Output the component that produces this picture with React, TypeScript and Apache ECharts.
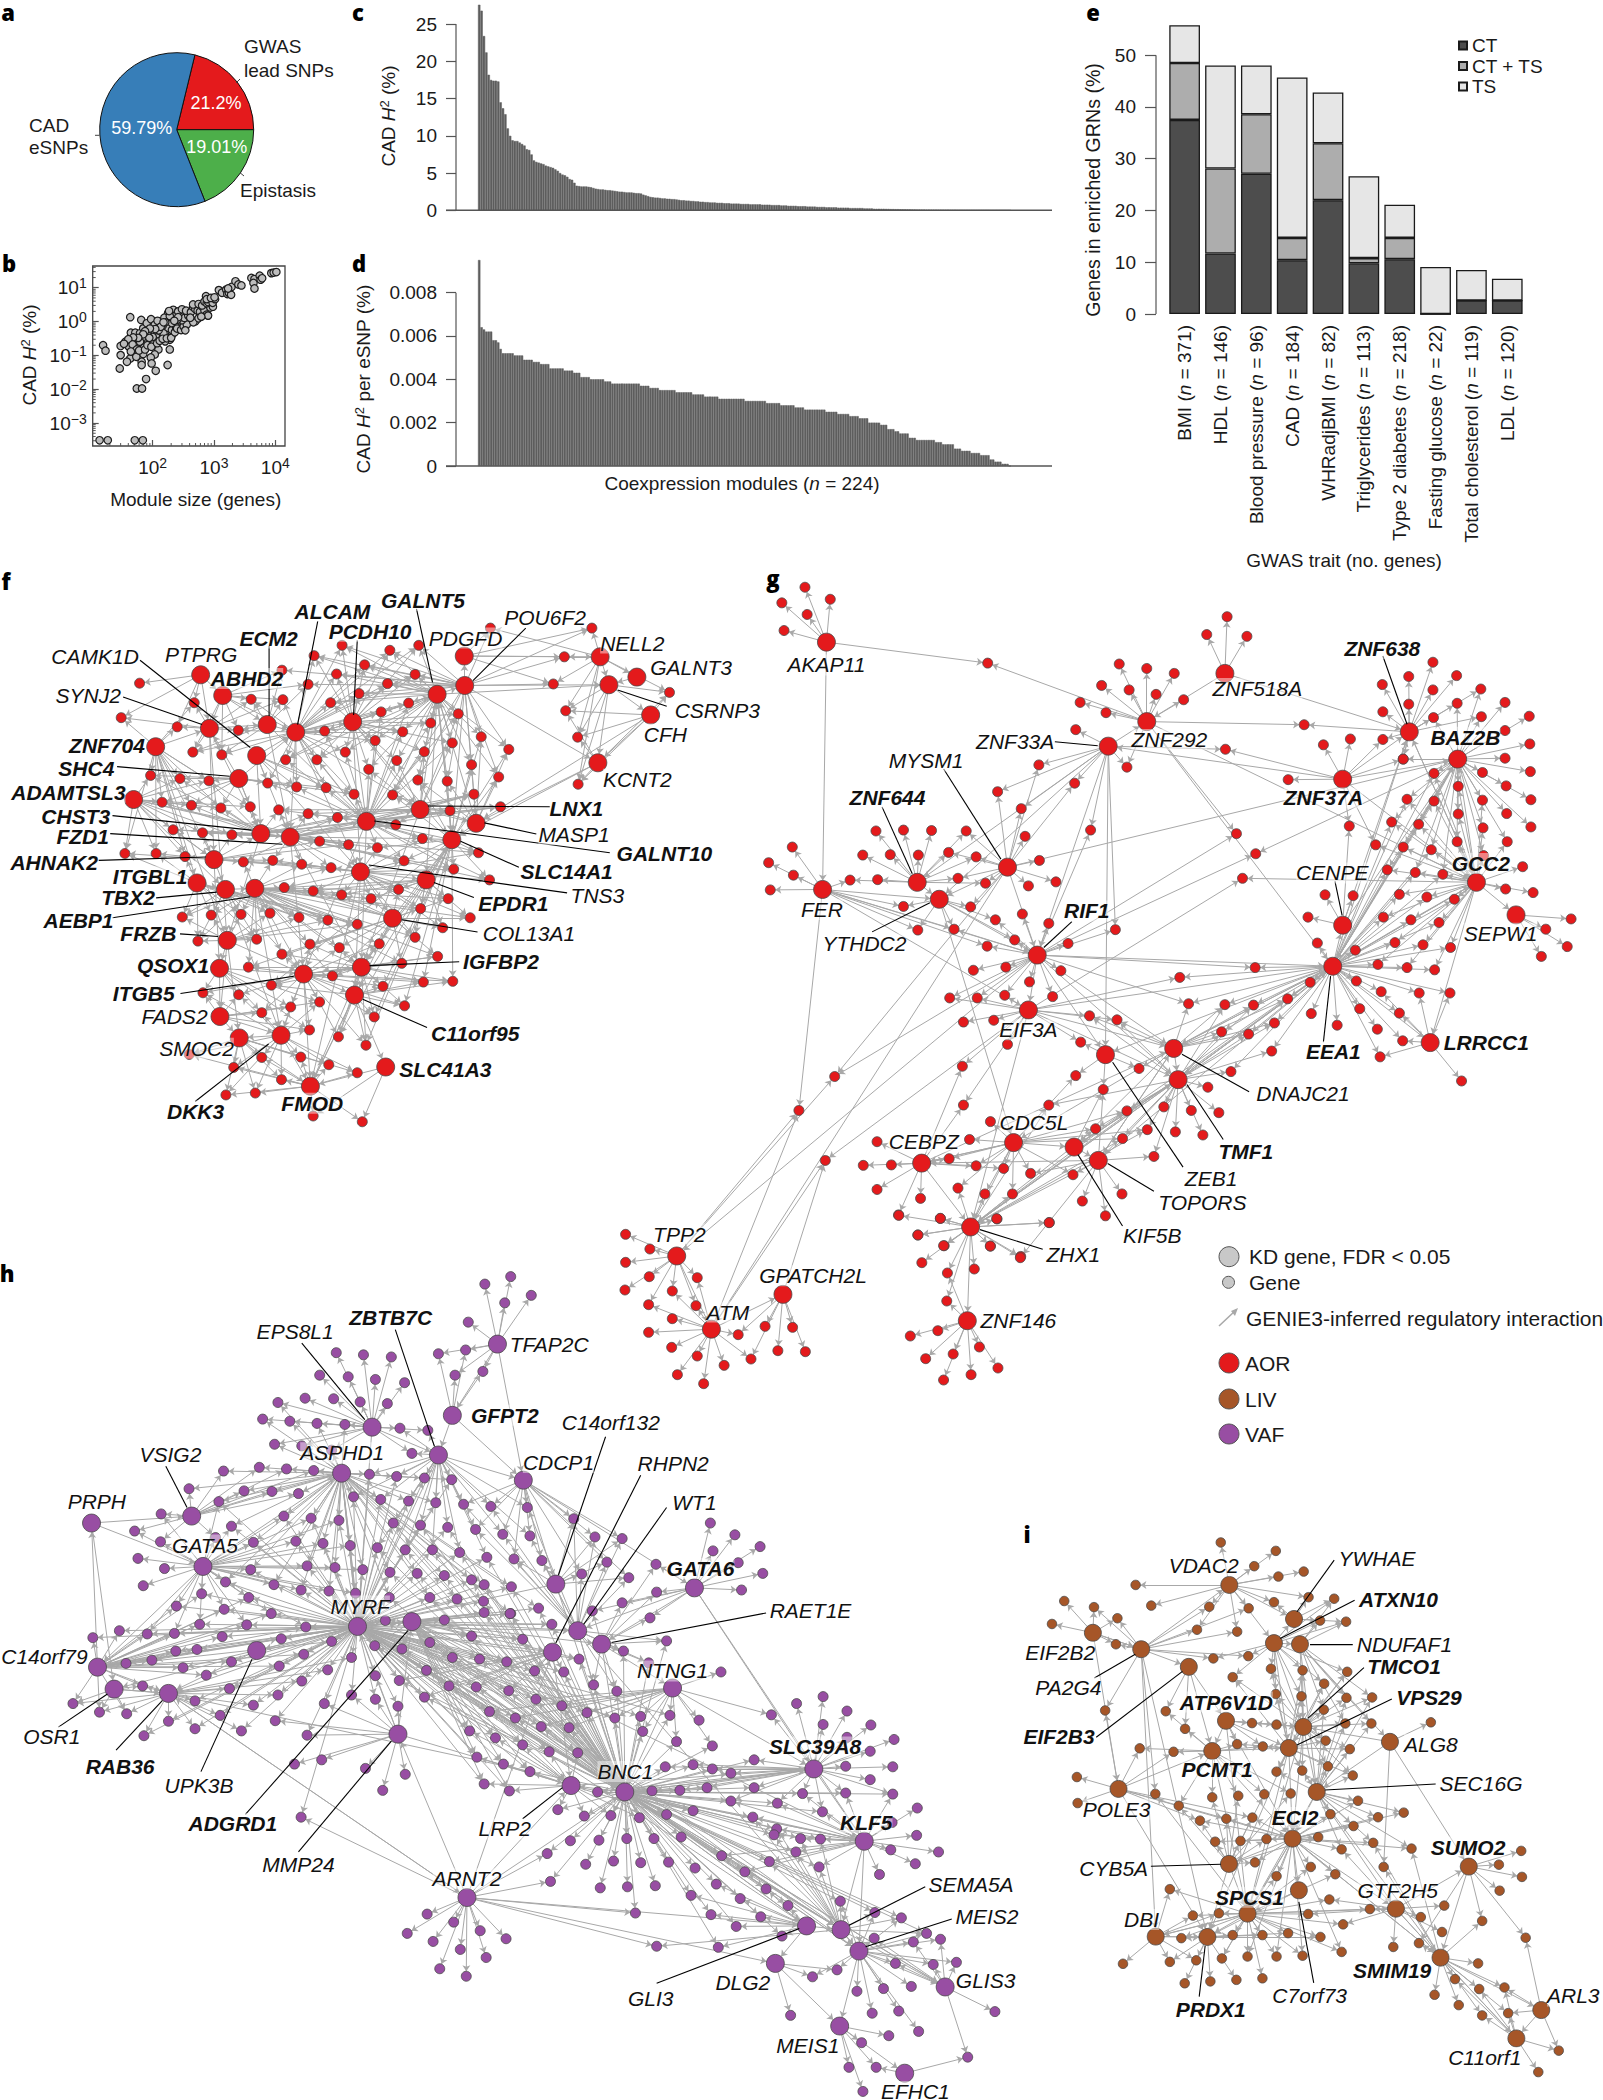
import React, { useEffect, useRef } from "react";
import * as echarts from "echarts";

const FONT = "Liberation Sans";
const INK = "#1a1a1a";
const AXIS = "#555555";

// ---------- panel a ----------
const pieNames = ["GWAS lead SNPs", "Epistasis", "CAD eSNPs"];
const pieValues = [21.2, 19.01, 59.79];
const pieColors = ["#e41a1c", "#4daf4a", "#377eb8"];

// ---------- panel b : module size, CAD H2 ----------
const moduleScatter = [
  [13.6,.00031],[18.5,.00031],[51,.00031],[69,.00031],[55,.0105],[67,.0105],[78,.02],[29,.041],[112,.035],[175,.052],[190,.15],[15.5,.2],[17,.138],[43,1.35],
  [30,.19],[30,.102],[36,.255],[41,.18],[43,.081],[38,.065],[52,.115],[58,.2],[46,.285],[44,.47],[52,.47],[62,.45],[70,.63],[65,1.12],[80,.89],[94,1.17],[108,.8],[85,.45],[108,.45],[73,.34],[62,.255],[72,.17],[85,.255],[102,.227],[124,.15],[108,.107],[93,.087],[70,.11],[66,.065],[66,.052],[96,.058],[54,.091],[116,.34],[150,.36],
  [131,.89],[169,1.12],[140,.63],[178,.63],[169,.4],[206,.4],[190,1.12],[178,1.77],[216,2.22],[240,1.55],[278,1.77],[228,.8],[278,.8],[345,.89],[400,1.2],[458,1.05],[500,1.02],[315,1.55],[206,.56],[240,.7],[150,.45],[190,.29],[160,.26],[125,.55],[145,.75],[120,1.05],[155,1.3],[190,1.45],[205,.9],[160,.95],[135,.7],[110,.6],[90,.62],[75,.52],[100,.35],[88,.33],[70,.42],[58,.33],[48,.34],[40,.3],[34,.22],[47,.21],[55,.15],[44,.13],[60,.14],[75,.15],[82,.2],[95,.18],[118,.23],[130,.27],[145,.31],[170,.32],[200,.33],[230,.48],[250,.62],[290,.56],[320,.72],[360,.82],[300,1.1],[255,1.15],[330,1.28],[380,1.5],[260,2.0],[300,2.3],[350,2.1],[420,1.9],[455,2.7],[495,2.35],[540,2.1],[590,1.95],[640,2.8],[700,2.1],[755,1.6],[800,1.5],[870,2.6],[960,2.75],[455,3.2],[560,3.3],[640,3.0],[700,3.9],[760,3.5],[800,3.8],[950,3.6],[1040,4.6],[740,5.6],[760,4.6],[890,5.0],[1020,5.2],[1200,8.5],[1350,7.1],[1580,8.8],[1650,6.5],[1750,7.0],[1900,6.2],[1930,10.5],[1700,9.5],[2240,15.5],[2500,12.5],[2800,11.7],[4070,19.4],[4570,18],[4400,13.8],[4570,9.5],[5560,22.7],[5760,17.3],[6100,19],[8600,27],[9400,28],[10400,29],[460,.95],[560,1.25],[620,1.4],[340,.55],[260,1.35],[225,1.05],[410,1.3],[185,2.05],[150,.95]
];
const minorXTicks = [20,30,40,50,60,70,80,90,200,300,400,500,600,700,800,900,2000,3000,4000,5000,6000,7000,8000,9000];
const minorYTicks = [.0003,.0004,.0005,.0006,.0007,.0008,.0009,.002,.003,.004,.005,.006,.007,.008,.009,.02,.03,.04,.05,.06,.07,.08,.09,.2,.3,.4,.5,.6,.7,.8,.9,2,3,4,5,6,7,8,9,20,30,40];

// ---------- panels c and d (224 coexpression modules) ----------
const heritability = [
  27.6,26.8,23.4,21.2,18.2,17.5,17.4,17.4,17.3,14.5,
  13.7,12.9,11.0,10.0,9.4,9.3,9.3,9.1,8.9,8.7,
  8.2,8.1,7.5,6.7,6.5,6.4,6.3,6.2,6.0,5.9,
  5.8,5.7,5.5,5.3,5.0,4.8,4.7,4.5,4.2,4.1,
  3.7,3.3,3.25,3.2,3.2,3.2,3.15,3.1,3.0,2.9,
  2.85,2.8,2.8,2.75,2.7,2.7,2.65,2.6,2.55,2.5,
  2.5,2.45,2.4,2.4,2.4,2.35,2.3,2.3,2.25,2.1,
  2.0,1.9,1.8,1.75,1.7,1.7,1.65,1.6,1.6,1.55,
  1.55,1.5,1.5,1.45,1.4,1.35,1.35,1.3,1.3,1.25,
  1.25,1.2,1.2,1.15,1.15,1.1,1.1,1.05,1.05,1.05,
  1.0,1.0,1.0,.95,.95,.95,.9,.9,.9,.9,
  .85,.85,.85,.85,.8,.8,.8,.8,.8,.75,
  .75,.75,.75,.7,.7,.7,.7,.65,.65,.65,
  .6,.6,.6,.6,.55,.55,.55,.55,.5,.5,
  .5,.5,.45,.45,.45,.45,.4,.4,.4,.4,
  .4,.35,.35,.35,.35,.35,.3,.3,.3,.3,
  .3,.3,.25,.25,.25,.25,.2,.2,.2,.2,
  .2,.18,.18,.16,.16,.15,.15,.14,.13,.12,
  .12,.11,.1,.1,.09,.09,.08,.08,.07,.07,
  .06,.06,.05,.05,.05,.04,.04,.04,.03,.03,
  .03,.02,.02,.02,.02,.015,.015,.015,.01,.01,
  .01,.01,.01,.01,.01,.005,.005,.005,.003,.003,
  .001,.001,0,0
];
const heritabilityPerSnp = [
  .0095,.0064,.0063,.0062,.0062,.0062,.0058,.0058,.0057,.0054,
  .0052,.0052,.0052,.0052,.0052,.0051,.0051,.0051,.0051,.0049,
  .0049,.0049,.0049,.0048,.0048,.0048,.0047,.0047,.0047,.0047,
  .0045,.0045,.0045,.0045,.0045,.0045,.0044,.0044,.0044,.0044,
  .0043,.0043,.0043,.0041,.0041,.0041,.0041,.0040,.0040,.0040,
  .0040,.0040,.0040,.0039,.0039,.0039,.0038,.0038,.0038,.0038,
  .0038,.0038,.0038,.0038,.0038,.0038,.0038,.0038,.0037,.0037,
  .0037,.0037,.0036,.0036,.0036,.0036,.0035,.0035,.0035,.0035,
  .0035,.0035,.0035,.0034,.0034,.0034,.0034,.0034,.0034,.0034,
  .0033,.0033,.0033,.0033,.0033,.0032,.0032,.0032,.0032,.0032,
  .0032,.0031,.0031,.0031,.0031,.0031,.0031,.0031,.0031,.0031,
  .0031,.0031,.0030,.0030,.0030,.0030,.0030,.0030,.0030,.0030,
  .0030,.0029,.0029,.0029,.0029,.0029,.0029,.0028,.0028,.0028,
  .0028,.0028,.0028,.0027,.0027,.0027,.0027,.0026,.0026,.0026,
  .0026,.0026,.0026,.0026,.0026,.0026,.0025,.0025,.0025,.0025,
  .0025,.0024,.0024,.0024,.0024,.0024,.0023,.0023,.0023,.0023,
  .0022,.0022,.0022,.0022,.0020,.0020,.0020,.0020,.0020,.0019,
  .0019,.0019,.0017,.0017,.0017,.0016,.0016,.0015,.0015,.0015,
  .0015,.0013,.0013,.0013,.0012,.0012,.0012,.0012,.0012,.0012,
  .0012,.0012,.0011,.0011,.0011,.0010,.0010,.0010,.0010,.0010,
  .0008,.0008,.0008,.0007,.0007,.0007,.0007,.0006,.0006,.0006,
  .0006,.0005,.0005,.0005,.0005,.0003,.0003,.0002,.0002,.0002,
  .0001,.0001,.0001,0
];
const moduleIds = heritability.map((_, i) => `M${i + 1}`);

// ---------- panel e ----------
const traits = ["BMI","HDL","Blood pressure","CAD","WHRadjBMI","Triglycerides","Type 2 diabetes","Fasting glucose","Total cholesterol","LDL"];
const traitGenes = [371,146,96,184,82,113,218,22,119,120];
const ctShare = [37.5,11.7,27.1,10.4,22,9.8,10.6,0,2.6,2.6];
const ctTsShare = [11,16.4,11.5,4.3,11,1,4.1,0,0,0];
const tsShare = [7.3,19.9,9.4,31,9.8,15.8,6.4,9.1,5.9,4.2];
const traitCategories = traits.map((t, i) => `${t} (n = ${traitGenes[i]})`);

// ---------- networks: hubs, then groups of genes with their regulators ----------
type Group = [number[], number[]];

const fHubs = [[437,300],[485,354],[456,440],[339,488],[582,430],[644,450],[768,423],[559,511],[520,571],[291,626],[952,351],[1011,251],[1012,328],[1307,253],[1387,306],[1326,326],[1417,405],[1302,530],[915,652],[1037,688],[798,683],[984,731],[568,715],[632,724],[466,783],[429,844],[491,861],[555,858],[785,815],[928,836],[855,936],[495,994],[478,1067],[661,1082],[787,1064],[772,1137],[479,1193],[521,1249],[612,1242],[840,1325],[676,1375]];
const fGroups: Group[] = [
  [[0],[304,322]],
  [[0,2,3],[264,412,423,373,386,436]],
  [[1,2,5,4],[420,502,483,509,519,445,547,364,616,365]],
  [[1,4,12],[614,288,671,325]],
  [[5,6,10,12],[684,250,745,223,733,298,794,274,849,236,912,223,904,299,844,323,782,349,720,373]],
  [[5,6,10,20],[707,447,830,397,890,374,938,426,877,449,817,472,752,502,690,522,622,522]],
  [[6,10,18,20],[924,501,864,524,803,547,998,402,985,478]],
  [[10,12,19,21],[1048,462,1108,495,1027,535,1086,567,974,578,910,575,855,614]],
  [[7,8,5,20],[771,612,710,595,646,593,583,583]],
  [[3,8,9,22],[455,577,392,571,328,563,353,633,417,641,481,648,545,645]],
  [[20,22,23,18],[607,653,671,663,735,673,862,692,980,655,1032,612,1090,645]],
  [[9,22,24,23],[377,705,441,713,505,718,696,735,759,744]],
  [[20,21,23,28],[822,752,920,728,880,786,988,808,1042,765,1066,836]],
  [[9,3,24,25],[272,767,340,767,403,775]],
  [[23,24,27,28],[530,789,594,785,657,795,721,804]],
  [[27,28,29,30],[619,856,682,865,744,875,808,885,868,861,976,885,916,911,1024,935,964,961,904,986]],
  [[26,27,31,25],[397,933,460,928,525,926,588,923,651,934,714,941,778,952,431,996,559,991]],
  [[30,33,34,27],[675,1004,739,1013,826,1003,614,1030,541,1064,953,1036,875,1054,724,1087]],
  [[33,34,35,21],[591,1111,922,1103,986,1101,834,1114,881,1165,815,1194,737,1246,797,1268]],
  [[32,33,36,38],[442,1131,520,1136,633,1168,696,1155,570,1183,674,1228]],
  [[37,38,40],[412,1292,570,1300,655,1299,509,1326,716,1319,778,1340,613,1358,556,1393,492,1398]],
  [[40,39],[682,1453,789,1468]],
  [[11,12,13],[1068,178,1289,178,1229,253,1205,324]],
  [[15,16,17,13],[1232,394,1258,463,1259,586,1458,346]]
];
const fHubLinks = [[4,5],[5,6],[6,10],[10,12],[12,11],[2,4],[1,5],[3,2],[7,5],[8,5],[8,2],[22,23],[20,18],[18,19],[19,21],[21,20],[23,20],[23,28],[28,29],[29,21],[28,30],[30,34],[33,34],[34,35],[33,35],[26,27],[25,26],[24,26],[24,22],[22,31],[31,33],[26,33],[32,33],[33,38],[38,37],[37,40],[38,40],[35,40],[39,40],[35,39],[34,40],[33,40],[36,37],[36,38],[32,36],[31,32],[27,33],[27,34],[30,21],[18,10],[21,10],[19,10],[12,19],[12,21],[12,17],[13,15],[14,15],[15,16],[15,17],[16,17],[13,14],[12,15],[10,15],[11,13],[17,21],[17,19],[16,19],[3,24],[9,24],[9,26],[3,25],[2,24],[2,22],[8,22],[7,22],[7,23],[5,23],[4,23],[6,20],[6,18],[5,20],[5,18],[6,21],[10,21],[0,2],[0,1],[1,2],[1,4],[4,20],[5,28],[7,28],[20,34],[20,33],[23,33],[23,34],[18,34],[21,34],[29,34],[10,29],[6,28],[2,31],[3,31],[24,32],[31,36],[31,37],[27,38],[26,38],[28,35],[28,40],[30,40],[21,35]];
const fLabels: [string,number,number,number][] = [["GALNT5",921,105,1],["ALCAM",724,134,1],["PCDH10",806,186,1],["POU6F2",1187,150,0],["ECM2",585,204,1],["PDGFD",1014,204,0],["NELL2",1377,217,0],["CAMK1D",207,252,0],["PTPRG",438,246,0],["GALNT3",1505,282,0],["ABHD2",538,310,1],["CSRNP3",1562,393,0],["SYNJ2",192,355,0],["CFH",1449,455,0],["ZNF704",233,486,1],["KCNT2",1388,573,0],["SHC4",188,546,1],["ADAMTSL3",149,607,1],["LNX1",1255,650,1],["CHST3",165,671,1],["FZD1",180,722,1],["MASP1",1250,718,0],["GALNT10",1447,767,1],["AHNAK2",118,790,1],["SLC14A1",1234,815,1],["ITGBL1",327,828,1],["TBX2",279,881,1],["TNS3",1301,877,0],["EPDR1",1118,898,1],["AEBP1",171,942,1],["COL13A1",1152,976,0],["FRZB",323,977,1],["IGFBP2",1091,1048,1],["QSOX1",377,1060,1],["ITGB5",313,1133,1],["FADS2",380,1192,0],["C11orf95",1035,1237,1],["SMOC2",428,1276,0],["SLC41A3",970,1331,1],["DKK3",426,1440,1],["FMOD",680,1420,1]];
const fLeaders = [[907,128,942,320],[692,160,648,430],[778,210,770,405],[1145,178,1030,315],[586,225,586,408],[305,262,545,490],[268,358,440,430],[255,540,500,565],[245,668,548,706],[240,715,615,743],[215,785,448,776],[340,883,472,868],[245,935,545,880],[392,977,475,984],[393,1133,640,1088],[932,643,1198,645],[1055,687,1168,716],[815,682,1328,765],[1003,735,1130,803],[803,797,1235,870],[945,843,1032,882],[875,940,1040,972],[805,1060,1000,1050],[790,1148,930,1222],[585,1265,425,1415],[1345,340,1452,382]];

const gHubs = [[157,184],[881,254],[739,362],[669,417],[1216,385],[1304,446],[1095,491],[486,688],[322,722],[362,760],[150,738],[1338,722],[1095,818],[1410,795],[540,885],[1077,910],[1254,1081],[524,1008],[664,1108],[788,1094],[796,1164],[497,1305],[607,1315],[651,1345],[330,1351],[419,1494],[-115,1559],[-52,1723],[78,1645],[413,1704]];
const gGroups: Group[] = [
  [[0],[118,61,76,96,164,88,122,122,80,158]],
  [[0,2],[450,231]],
  [[1],[885,127,848,167,921,171]],
  [[2],[689,233,739,243,789,254,657,281,707,291,756,301,806,313,618,319,665,342]],
  [[2,3],[703,464]],
  [[3],[610,380]],
  [[2,4],[1025,369]],
  [[3,6],[882,424]],
  [[6],[1060,414,1109,401,996,492]],
  [[4,6],[1168,402,1205,446]],
  [[3,7],[543,459,608,500,468,519,511,557]],
  [[3,14],[637,605]],
  [[7,8],[411,607,379,655,429,665,396,713,446,724]],
  [[7],[518,619,544,673,574,721,524,730]],
  [[8],[247,607,297,605,348,606,223,661,273,660,324,661,250,716]],
  [[8,10],[200,717]],
  [[9,7],[419,777]],
  [[9,10],[297,776,323,829]],
  [[9,10,14],[389,827]],
  [[10],[95,643,52,678,97,706,55,739]],
  [[9,14],[464,806,499,851]],
  [[14],[513,793,561,814,596,859,424,919,483,912,583,920,526,945,568,978]],
  [[10,14],[449,865]],
  [[14,3],[682,828]],
  [[17,14],[481,975,431,981,381,981]],
  [[17],[406,1035,461,1031,486,1085]],
  [[17,19,20],[635,1021,685,1030]],
  [[18,17],[619,1080]],
  [[17,15],[799,935]],
  [[14,15],[936,913]],
  [[14,19,15],[815,994]],
  [[2,14],[902,613]],
  [[5,14],[937,658]],
  [[11,17],[913,713]],
  [[4],[1259,229,1215,261,1302,259,1167,279,1259,291,1215,323,1168,340]],
  [[4,5],[1346,289,1303,321,1260,353,1347,351,1205,446]],
  [[5],[1390,319,1434,350,1390,382,1435,412,1390,444,1349,476,1436,474,1392,506,1437,537,1393,568,1437,598]],
  [[5,11],[1305,507,1349,538,1305,569,1350,600,1394,631,1351,662,1303,631]],
  [[5,11,15],[1261,478,1212,536,1261,540,1184,587,1233,592,1205,643,1256,649,1176,694,1227,700,1277,704]],
  [[6,11],[1155,638]],
  [[12,6],[1107,596]],
  [[11],[1422,687,1391,737,1441,745]],
  [[11,15],[1298,760,1198,749,1248,755,1169,800,1219,806,1270,812,1190,857,1241,862,1291,868,1159,906,1212,913,1262,918]],
  [[15,16],[1234,970,1290,970,1198,1015,1204,1077,1163,1113,1165,967]],
  [[15],[1118,874,1049,858,1036,946,1120,943,1126,1005,1085,1042,1158,1051,1038,1016]],
  [[12],[1032,800,1063,750,1114,752]],
  [[16],[1311,1167]],
  [[13],[1510,804,1464,827,1503,866,1456,888]],
  [[15,19,20],[995,983,933,997,881,996,971,1037,924,1062,875,1057]],
  [[15,20],[966,1100,892,1146]],
  [[20],[850,1181,870,1238,770,1225,820,1233,791,1281,841,1288]],
  [[18,19],[725,1139]],
  [[18,21],[610,1155]],
  [[18,22,23],[660,1186]],
  [[20,21,25],[561,1221,703,1234,646,1274,740,1276,695,1296]],
  [[23,20],[752,1336]],
  [[24,17],[406,1221,404,1134]],
  [[21],[455,1258,417,1298]],
  [[24],[249,1303,224,1356,275,1355,249,1410,328,1430,288,1467]],
  [[21,24],[380,1341,429,1357,479,1363]],
  [[21,23],[528,1374,605,1377]],
  [[21,25],[396,1407,445,1420,495,1420]],
  [[23],[622,1436,694,1420,664,1469]],
  [[25],[364,1475,467,1476,562,1484,323,1512,371,1536,455,1537,510,1560]],
  [[7,14,26],[172,1157]],
  [[10,26,27],[107,1233]],
  [[27,28,17],[155,1345]]
];
// lower part of panel g, written in the frame of the second crop
const gLowerGroups: Group[] = [
  [[26],[40,403,78,447,40,487,77,530,39,570]],
  [[26,27],[152,533,113,573,76,614,150,617]],
  [[27],[113,656,76,697,112,742,152,768,194,796,121,824,162,851]],
  [[27,28],[216,704,236,777]],
  [[28],[258,679,301,682,278,752,321,755]],
  [[25],[497,405,537,437,610,438,503,488,585,507,467,346,532,355,620,356,702,368]],
  [[25,23],[657,473]],
  [[25,29],[543,519,542,603]],
  [[29],[528,692,485,708,552,762,593,741,509,776,622,804,580,824,537,840]]
];
const gHubLinks = [[0,10],[3,2],[1,2],[1,4],[6,3],[6,4],[6,5],[3,8],[3,9],[7,9],[8,9],[9,14],[10,14],[10,9],[7,14],[14,17],[14,18],[14,20],[14,19],[14,15],[2,15],[3,14],[3,18],[7,5],[9,21],[15,12],[15,11],[15,11],[15,5],[15,4],[15,19],[15,19],[15,20],[15,20],[15,18],[11,5],[11,4],[11,13],[11,16],[15,16],[19,20],[19,21],[20,22],[20,23],[20,25],[20,25],[19,23],[19,22],[21,24],[21,24],[21,22],[22,23],[23,24],[21,25],[24,25],[25,29],[23,25],[25,15],[5,15],[17,19],[17,15],[26,27],[27,28],[7,27],[14,26],[4,11],[6,11],[12,5],[12,4],[2,11],[23,15],[22,15],[23,19],[22,20],[17,20],[10,17],[17,25],[24,19]];
const gLabels: [string,number,number,number][] = [["AKAP11",157,235,0],["ZNF518A",940,288,0],["ZNF638",1167,198,1],["ZNF292",780,402,0],["BAZ2B",1318,397,1],["ZNF33A",500,407,0],["MYSM1",338,450,0],["ZNF37A",1060,533,1],["ZNF644",268,533,1],["GCC2",1346,680,1],["CENPE",1076,701,0],["FER",149,783,0],["RIF1",630,786,1],["YTHDC2",226,860,0],["SEPW1",1382,836,0],["EEA1",1078,1101,1],["LRRCC1",1356,1081,1],["EIF3A",524,1052,0],["DNAJC21",1023,1195,0],["TMF1",919,1326,1],["CDC5L",534,1259,0],["CEBPZ",334,1303,0],["ZEB1",856,1386,0],["TOPORS",840,1440,0],["KIF5B",749,1514,0]];
const gLowerLabels: [string,number,number,number][] = [["ZHX1",740,462,0],["TPP2",124,402,0],["ATM",200,636,0],["GPATCH2L",333,527,0],["ZNF146",654,662,0]];
const gLeaders = [[1168,215,1212,368],[572,407,650,416],[370,468,474,670],[258,553,313,703],[240,833,345,768],[1081,720,1094,796],[603,810,552,868],[1060,1080,1073,932],[803,1107,925,1191],[812,1175,878,1298],[677,1125,805,1360],[668,1352,752,1414],[614,1332,695,1492],[436,1500,550,1544]];

const hHubs = [[750,157],[682,290],[561,312],[661,364],[515,398],[789,411],[289,478],[138,491],[306,572],[838,605],[1047,612],[539,684],[621,675],[871,692],[833,732],[907,717],[387,729],[147,760],[172,801],[254,809],[1014,799],[600,885],[861,981],[942,993],[1227,950],[1303,1085],[704,1190],[1216,1243],[1268,1250],[1295,1290],[1169,1313],[1425,1357],[1266,1430],[1364,1518]];
const hGroups: Group[] = [
  [[0],[731,45,770,31,801,66,761,80,706,116]],
  [[0,1],[661,175,702,168,686,215,728,208]],
  [[2],[507,173,548,177,590,181,482,215,525,218,566,223,610,229,460,258,503,259,543,265,584,268]],
  [[2,4],[419,266,396,297,437,301,478,305,520,307,414,344,455,347,500,355]],
  [[2,3],[603,314,645,318,621,361]],
  [[4,6],[391,387,432,390,473,393,337,394,285,427,368,431,410,432,450,436]],
  [[4,3,11],[557,400,598,404,640,407,681,410,533,442,574,447,616,450,657,453]],
  [[5,3,13],[699,456,740,460,795,462,717,503,758,512,799,515]],
  [[4,8,11],[330,451,349,497,428,478,469,482,511,486,382,527,446,525,487,529,528,533]],
  [[3,11,23],[593,491,634,495,675,499,569,537,611,541,652,541,693,546,734,555]],
  [[5,9,13],[865,483,897,517,938,520,775,558,817,561,915,564,877,586,948,593]],
  [[6,8],[243,474,203,506,242,526,325,518]],
  [[8],[208,557,248,576,216,608]],
  [[8,11,4],[463,571,505,574,547,578,378,578,340,601,413,606,454,616,496,618,536,622]],
  [[11,4,23],[588,583,629,585,670,589,711,597,730,606,771,610,587,630,648,630,689,633,729,637,770,660,812,650]],
  [[10],[1071,491,1108,513,1146,535,1075,543,1113,565,1150,585,1118,616]],
  [[10,15],[989,568,990,620,980,668,938,640,893,655]],
  [[8,11,17],[304,623,375,630,266,646,338,652,409,660,461,685,372,681,222,698,301,680,263,697]],
  [[17,11],[140,705,180,692,335,703,424,707,500,712,458,736,421,758,349,750,311,775,276,761,229,747,190,753,265,730,297,727]],
  [[11,23,12],[581,673,670,672,730,658,769,660,832,680,648,714,711,702,788,708,565,720,606,726,682,742,764,750,723,745]],
  [[11,19],[530,742,494,765,455,786,419,812,382,831,346,800,294,823,254,861,217,888,332,850,294,875,364,879]],
  [[17,18,19],[150,844,191,847,215,795,110,828]],
  [[11,21],[415,860,463,887,489,828,530,812,566,776,566,820,600,833]],
  [[11,23,14],[643,766,602,785,640,816,677,795,718,797,767,804,806,767,850,769,873,745]],
  [[13,15,23],[895,793,930,805,940,730,1005,711,978,752]],
  [[20],[1087,769,1054,859]],
  [[20,23,11],[1010,850,966,852,927,855,885,845,847,832,808,820,738,843,777,855,816,871,858,873]],
  [[22,11,12],[708,879,747,892,788,905,828,918,871,920,719,928,759,941,799,955,730,978,768,991]],
  [[23,20],[969,880,1020,899,1074,907]],
  [[20,24],[1163,849]],
  [[24],[1201,828,1241,815,1241,867,1277,842,1313,868,1277,891,1348,895,1312,917,1346,946,1275,945,1312,970]],
  [[24,23],[1137,933,1102,958,1074,950,1045,942,1003,946,1137,985,1066,985,1025,990,983,991,901,993]],
  [[24,25,23],[1275,995,1346,997,1240,1030,1210,996,1172,1014,1102,1010]],
  [[25],[1383,1023,1345,1050,1382,1074,1343,1101,1380,1127,1415,1105,1326,1147]],
  [[21],[551,949,577,990,611,960,444,941,485,933]],
  [[26,11],[454,1040]],
  [[22,23],[841,1026,881,1038,921,1037,964,1041,1005,1035,1045,1028]],
  [[23,25,28],[1135,1040,1171,1062,1207,1080,1167,1073,1237,1081,1200,1105,1235,1133,1160,1123,1123,1142,1088,1112]],
  [[23],[1048,1135,1008,1124,966,1125,925,1122,883,1128,860,1084,903,1083,945,1080,986,1080,1027,1077,905,1172,946,1170,988,1168]],
  [[26,23],[825,1108,830,1160,958,1219]],
  [[26,28],[990,1281]],
  [[23,27],[1080,1165,1116,1192,1155,1174,1188,1205,1042,1186,1072,1222,1110,1244,1147,1226,1083,1283,1179,1262]],
  [[23,29,28],[1319,1218,1267,1197,1359,1228,1397,1257]],
  [[29,31],[1318,1266,1377,1273,1418,1268,1442,1311,1407,1315,1350,1313]],
  [[29,30],[1262,1325,1225,1338]],
  [[29],[1292,1365,1332,1360,1374,1356,1355,1402,1315,1406,1385,1440]],
  [[30],[1192,1410]],
  [[32],[1340,1448,1299,1461,1280,1507,1301,1552]],
  [[32,33],[1321,1507]],
  [[31],[1500,1403]],
  [[31,33],[1459,1488]],
  [[26],[644,1221,614,1257,684,1236,724,1252,763,1267,653,1272,694,1287,733,1302,663,1323,703,1337]]
];
const hHubLinks = [[0,1],[1,3],[2,3],[1,5],[3,5],[0,5],[5,10],[4,11],[4,11],[3,11],[2,11],[7,6],[7,8],[8,17],[6,4],[8,4],[11,12],[11,12],[11,16],[11,17],[11,18],[11,19],[16,19],[17,19],[18,19],[11,14],[11,13],[11,23],[11,23],[11,23],[11,22],[11,22],[12,23],[12,22],[12,13],[12,14],[12,15],[14,23],[13,23],[15,23],[14,22],[9,23],[9,11],[5,9],[10,15],[10,13],[20,23],[15,20],[21,11],[21,12],[21,22],[23,22],[23,24],[23,24],[22,24],[23,25],[23,25],[23,27],[23,27],[23,28],[23,28],[23,29],[23,29],[24,25],[25,28],[25,29],[27,28],[28,29],[29,31],[27,30],[30,32],[29,32],[32,33],[23,31],[23,31],[28,31],[10,24],[20,24],[10,25],[26,14],[26,22],[26,21],[26,19],[26,27],[26,30],[26,23],[19,26],[17,7],[7,18],[18,19],[19,23],[12,25],[11,27],[11,28],[12,28],[12,29],[13,29]];
const hLabels: [string,number,number,number][] = [["TFAP2C",828,157,0],["ZBTB7C",589,108,1],["EPS8L1",445,134,0],["GFPT2",761,290,1],["C14orf132",921,304,0],["ASPHD1",516,360,0],["VSIG2",257,363,0],["CDCP1",842,378,0],["RHPN2",1015,380,0],["PRPH",146,450,0],["WT1",1047,452,0],["GATA5",309,532,0],["GATA6",1056,576,1],["MYRF",543,646,0],["RAET1E",1222,655,0],["C14orf79",67,741,0],["NTNG1",1014,767,0],["OSR1",78,890,0],["RAB36",181,945,1],["UPK3B",300,980,0],["ADGRD1",351,1052,1],["BNC1",943,955,0],["SLC39A8",1229,909,1],["LRP2",761,1062,0],["KLF5",1306,1050,1],["MMP24",450,1128,0],["ARNT2",704,1155,0],["SEMA5A",1464,1165,0],["MEIS2",1488,1225,0],["GLI3",981,1378,0],["DLG2",1120,1349,0],["GLIS3",1486,1345,0],["MEIS1",1218,1467,0],["EFHC1",1380,1552,0]];
const hLeaders = [[455,155,550,298],[596,130,655,348],[250,385,282,462],[913,330,842,588],[966,402,838,715],[1005,462,880,680],[1155,659,922,714],[88,872,162,810],[175,915,245,822],[303,955,380,745],[370,1035,615,692],[788,1043,848,985],[450,1105,590,898],[1395,1170,1280,1242],[1435,1230,1305,1282],[990,1350,1205,1248]];

const iHubs = [[563,222],[196,347],[326,390],[454,436],[737,311],[683,374],[753,377],[554,577],[762,593],[723,648],[517,656],[995,632],[265,755],[798,763],[733,885],[562,951],[750,1020],[612,1081],[1011,1068],[1207,958],[365,1141],[504,1142],[1131,1196],[1402,1333],[1335,1407]];
const iGroups: Group[] = [
  [[0],[540,111,630,173,688,133,695,200,763,187,311,222,353,276]],
  [[1,2],[262,309,199,280,258,377]],
  [[1],[119,264,86,324]],
  [[2,0],[476,339,509,279,584,344,615,283]],
  [[4,0],[683,267,776,254]],
  [[4,5,6],[845,258,807,315,877,318]],
  [[2,5],[520,414,614,408]],
  [[5,9,8],[675,441,760,445,572,463,880,449,818,480,688,507,757,513]],
  [[6,8,13],[878,517,947,516,817,548,875,584,945,584]],
  [[2,12],[229,550]],
  [[3,10],[392,552,444,598]],
  [[7,8],[624,583,690,587]],
  [[11],[1105,581]],
  [[10,12],[322,649,413,658]],
  [[7,10,9],[584,638,653,644]],
  [[8,13,9],[822,629,887,651,828,696,690,710,759,707,895,720]],
  [[12],[153,724,155,792]],
  [[2,17],[364,768]],
  [[10,15],[427,799,517,777,587,773,657,769,728,767]],
  [[13,14],[909,786,835,821,963,829,1032,817,897,852]],
  [[12,14,15],[484,838,555,833,625,830]],
  [[14,15],[525,893,593,891,663,886,802,881,632,947]],
  [[13,14,22],[865,913,950,896,1053,911]],
  [[14,17],[782,959,848,978,690,983]],
  [[11,22],[978,959]],
  [[20,17],[403,1017,465,1086,535,1080]],
  [[17,18],[832,1044,941,1069,775,1082,869,1109]],
  [[18],[1141,1060,1078,1090,1135,1129,1004,1168]],
  [[19,22],[1073,1158,1243,1100]],
  [[19],[1288,953,1348,917,1350,985,1290,1021]],
  [[19,23],[1360,1144]],
  [[17,21],[572,1137,652,1137,721,1132,808,1142,434,1145]],
  [[20],[277,1212]],
  [[20,21],[403,1207,474,1203]],
  [[17,14],[543,1198,612,1193,690,1193,760,1191,865,1181]],
  [[21],[443,1263,512,1258,582,1254]],
  [[17],[652,1250]],
  [[22],[1232,1211,1115,1293,1180,1320]],
  [[22,24],[1170,1252,1235,1278,1243,1347]],
  [[22,23,24],[1303,1274,1313,1341]],
  [[23,24],[1449,1439]],
  [[24],[1394,1495]]
];
const iHubLinks = [[1,2],[1,2],[2,0],[2,3],[2,21],[1,12],[0,5],[0,4],[5,4],[5,6],[5,8],[6,8],[5,9],[6,13],[3,10],[3,7],[7,10],[7,9],[7,8],[10,9],[8,9],[8,13],[9,13],[8,14],[9,14],[13,14],[10,14],[7,14],[12,14],[12,10],[14,15],[14,17],[14,16],[15,17],[16,17],[13,17],[9,17],[8,17],[20,21],[20,21],[17,21],[17,20],[17,20],[17,18],[18,22],[14,22],[14,22],[13,22],[11,19],[11,13],[11,8],[6,11],[19,22],[18,19],[22,23],[22,24],[22,24],[23,24],[2,20],[12,21],[14,18],[13,18],[9,21],[10,17],[7,17],[15,21],[16,21]];
const iLabels: [string,number,number,number][] = [["VDAC2",494,172,0],["YWHAE",960,154,0],["ATXN10",1018,260,1],["EIF2B2",108,398,0],["NDUFAF1",1034,377,0],["TMCO1",1033,435,1],["PA2G4",130,490,0],["VPS29",1100,517,1],["ATP6V1D",555,528,1],["ALG8",1105,638,0],["EIF2B3",105,618,1],["PCMT1",530,704,1],["SEC16G",1240,740,0],["POLE3",260,808,0],["ECI2",740,830,1],["CYB5A",252,962,0],["SUMO2",1205,907,1],["SPCS1",617,1038,1],["GTF2H5",1016,1021,0],["DBI",327,1096,0],["SMIM19",1001,1229,1],["C7orf73",779,1294,0],["PRDX1",513,1332,1],["ARL3",1488,1296,0],["C11orf1",1250,1457,0]];
const iLeaders = [[845,157,745,292],[900,262,700,362],[780,378,895,378],[200,465,310,403],[925,438,775,570],[1000,520,745,640],[205,620,437,448],[1118,742,820,758],[352,957,540,952],[790,1262,750,1050],[482,1298,498,1165]];

// ---------- frames: which page rectangle each network's coordinates map onto ----------
type Frame = { left: number; top: number; width: number; height: number; x0: number; x1: number; y0: number; y1: number };
const frameF: Frame = { left: 0, top: 560, width: 720, height: 600, x0: 0, x1: 1568, y0: 0, y1: 1568 };
const frameG: Frame = { left: 600, top: 560, width: 1003, height: 860, x0: -254.4, x1: 1568, y0: 0, y1: 1926.4 };
const frameGLow: Frame = { left: 600, top: 1100, width: 1003, height: 320, x0: 0, x1: 1568, y0: 0, y1: 960 };
const frameH: Frame = { left: 0, top: 1260, width: 1040, height: 840, x0: 0, x1: 1568, y0: 0, y1: 1568 };
const frameI: Frame = { left: 1020, top: 1500, width: 583, height: 600, x0: 0, x1: 1568, y0: 0, y1: 1568 };
const px = (f: Frame, x: number, y: number) => [
  f.left + ((x - f.x0) / (f.x1 - f.x0)) * f.width,
  f.top + ((y - f.y0) / (f.y1 - f.y0)) * f.height,
];
// lower-crop coordinates expressed in the frame of panel g
const lowToG = (x: number, y: number) => [1.1625 * x - 254.4, 1209.6 + 0.7467 * y];

function buildNet(hubs: number[][], groups: Group[], hubLinks: number[][], hubSize: number, smallSize: number) {
  const nodes: any[] = hubs.map((p) => ({ value: p, symbolSize: hubSize }));
  const links: any[] = [];
  groups.forEach(([from, pts]) => {
    for (let i = 0; i < pts.length; i += 2) {
      const idx = nodes.length;
      nodes.push({ value: [pts[i], pts[i + 1]], symbolSize: smallSize });
      from.forEach((h) => links.push({ source: h, target: idx }));
    }
  });
  hubLinks.forEach(([a, b]) => links.push({ source: a, target: b }));
  return { nodes, links };
}

const lowGroupsInG: Group[] = gLowerGroups.map(([from, pts]) => {
  const out: number[] = [];
  for (let i = 0; i < pts.length; i += 2) out.push(...lowToG(pts[i], pts[i + 1]));
  return [from, out] as Group;
});

const netF = buildNet(fHubs, fGroups, fHubLinks, 18, 10);
const netG = buildNet(gHubs, [...gGroups, ...lowGroupsInG], gHubLinks, 18, 10);
const netH = buildNet(hHubs, hGroups, hHubLinks, 18, 10);
const netI = buildNet(iHubs, iGroups, iHubLinks, 17, 9.5);

const graphSeries = (net: any, color: string, axisIdx: number) => ({
  type: "graph",
  coordinateSystem: "cartesian2d",
  xAxisIndex: axisIdx,
  yAxisIndex: axisIdx,
  layout: "none",
  silent: true,
  data: net.nodes,
  links: net.links,
  edgeSymbol: ["none", "arrow"],
  edgeSymbolSize: [0, 6],
  itemStyle: { color, borderColor: "#4a4a4a", borderWidth: 0.8, opacity: 1 },
  lineStyle: { color: "#a8a8a8", width: 1, opacity: 1, curveness: 0 },
  label: { show: false },
});

const hiddenAxis = (f: Frame, gridIndex: number) => ({
  x: { type: "value", gridIndex, show: false, min: f.x0, max: f.x1 },
  y: { type: "value", gridIndex, show: false, min: f.y0, max: f.y1, inverse: true },
});

const txt = (text: string, x: number, y: number, extra: any = {}) => ({
  type: "text",
  z: 100,
  x,
  y,
  style: { text, fontFamily: FONT, fontSize: 19, fill: INK, align: "left", verticalAlign: "middle", ...extra },
});
const seg = (x1: number, y1: number, x2: number, y2: number, stroke = "#000", lineWidth = 1, z = 99) => ({
  type: "line",
  z,
  shape: { x1, y1, x2, y2 },
  style: { stroke, lineWidth },
});
const ytitle = (text: string, x: number, y: number, fontSize = 19) => ({
  type: "text",
  z: 100,
  x,
  y,
  rotation: Math.PI / 2,
  style: {
    text,
    align: "center",
    verticalAlign: "middle",
    fill: INK,
    rich: {
      a: { fontFamily: FONT, fontSize, fill: INK },
      i: { fontFamily: FONT, fontSize, fontStyle: "italic", fill: INK },
      s: { fontFamily: FONT, fontSize: 13, fill: INK, padding: [0, 0, 8, 0] },
    },
  },
});
const netLabels = (f: Frame, rows: [string, number, number, number][]) =>
  rows.map(([t, x, y, b]) => {
    const [px0, py0] = px(f, x, y);
    return txt(t, px0, py0, {
      fontSize: 21,
      fontStyle: "italic",
      fontWeight: b ? "bold" : "normal",
      align: "center",
      fill: "#111",
      backgroundColor: "rgba(255,255,255,0.45)",
    });
  });
const netLeaders = (f: Frame, rows: number[][]) =>
  rows.map(([a, b, c, d]) => {
    const [x1, y1] = px(f, a, b);
    const [x2, y2] = px(f, c, d);
    return seg(x1, y1, x2, y2, "#000", 1.1, 90);
  });
const panelLetter = (t: string, x: number, y: number) =>
  txt(t, x, y, { fontFamily: "Open Sans", fontWeight: 800, fontSize: 22, align: "center", fill: "#000" });

const frameDeg = 76.32;

export default function App() {
  const ref = useRef<HTMLDivElement | null>(null);
  useEffect(() => {
    document.body.style.margin = "0";
    const chart = echarts.init(ref.current as HTMLDivElement, undefined, { renderer: "svg" });
    const axF = hiddenAxis(frameF, 4);
    const axG = hiddenAxis(frameG, 5);
    const axH = hiddenAxis(frameH, 6);
    const axI = hiddenAxis(frameI, 7);
    const supRich = {
      a: { fontFamily: FONT, fontSize: 19, color: INK },
      s: { fontFamily: FONT, fontSize: 14, color: INK, padding: [0, 0, 9, 0] },
    };
    const powerLabel = (v: number) => {
      const e = Math.round(Math.log10(v));
      return `{a|10}{s|${e < 0 ? "\u2212" + -e : e}}`;
    };
    const tickStyle = { color: AXIS, width: 1.2 };
    const plainLabel = { fontFamily: FONT, fontSize: 19, color: INK };

    chart.setOption({
      animation: false,
      backgroundColor: "#fff",
      textStyle: { fontFamily: FONT },
      grid: [
        { left: 92.7, top: 266, width: 192.3, height: 180, show: true, borderColor: "#444", borderWidth: 1.3, containLabel: false },
        { left: 478, top: 4, width: 533, height: 206.3 },
        { left: 478, top: 260, width: 533, height: 206 },
        { left: 1166.7, top: 25.6, width: 358.5, height: 288.4 },
        { left: frameF.left, top: frameF.top, width: frameF.width, height: frameF.height },
        { left: frameG.left, top: frameG.top, width: frameG.width, height: frameG.height },
        { left: frameH.left, top: frameH.top, width: frameH.width, height: frameH.height },
        { left: frameI.left, top: frameI.top, width: frameI.width, height: frameI.height },
      ],
      xAxis: [
        {
          type: "log", gridIndex: 0, min: 10.5, max: 14390, logBase: 10,
          axisLine: { show: false },
          splitLine: { show: false },
          axisTick: { show: true, inside: true, length: 6, lineStyle: tickStyle, customValues: [100, 1000, 10000] },
          axisLabel: { margin: 10, formatter: powerLabel, rich: supRich, customValues: [100, 1000, 10000] },
        },
        { type: "category", gridIndex: 1, data: moduleIds, show: false },
        { type: "category", gridIndex: 2, data: moduleIds, show: false },
        {
          type: "category", gridIndex: 3, data: traitCategories,
          axisLine: { show: false }, axisTick: { show: false },
          axisLabel: {
            rotate: 90, interval: 0, margin: 11,
            formatter: (v: string) => {
              const [head, tail] = v.split("(n");
              return `{a|${head}(}{i|n}{a|${tail}}`;
            },
            rich: {
              a: { fontFamily: FONT, fontSize: 19, color: INK },
              i: { fontFamily: FONT, fontSize: 19, fontStyle: "italic", color: INK },
            },
          },
        },
        axF.x, axG.x, axH.x, axI.x,
      ],
      yAxis: [
        {
          type: "log", gridIndex: 0, min: 0.00021, max: 43.9, logBase: 10,
          axisLine: { show: false },
          splitLine: { show: false },
          axisTick: { show: true, inside: true, length: 6, lineStyle: tickStyle, customValues: [0.001, 0.01, 0.1, 1, 10] },
          axisLabel: { margin: 6, formatter: powerLabel, rich: supRich, customValues: [0.001, 0.01, 0.1, 1, 10] },
        },
        {
          type: "value", gridIndex: 1, min: 0, max: 27.7, offset: 22,
          splitLine: { show: false }, axisLine: { show: false },
          axisTick: { show: true, length: 10, lineStyle: tickStyle, customValues: [0, 5, 10, 15, 20, 25] },
          axisLabel: { ...plainLabel, margin: 19, customValues: [0, 5, 10, 15, 20, 25] },
        },
        {
          type: "value", gridIndex: 2, min: 0, max: 0.0095, offset: 22,
          splitLine: { show: false }, axisLine: { show: false },
          axisTick: { show: true, length: 10, lineStyle: tickStyle, customValues: [0, 0.002, 0.004, 0.006, 0.008] },
          axisLabel: {
            ...plainLabel, margin: 19, customValues: [0, 0.002, 0.004, 0.006, 0.008],
            formatter: (v: number) => (v === 0 ? "0" : v.toFixed(3)),
          },
        },
        {
          type: "value", gridIndex: 3, min: 0, max: 55.72, offset: 10.7,
          splitLine: { show: false }, axisLine: { show: false },
          axisTick: { show: true, length: 11, lineStyle: tickStyle, customValues: [0, 10, 20, 30, 40, 50] },
          axisLabel: { ...plainLabel, margin: 20, customValues: [0, 10, 20, 30, 40, 50] },
        },
        axF.y, axG.y, axH.y, axI.y,
      ],
      legend: {
        data: ["CT", "CT + TS", "TS"],
        orient: "vertical",
        left: 1453,
        top: 31,
        itemWidth: 8,
        itemHeight: 8,
        itemGap: 1.5,
        icon: "rect",
        selectedMode: false,
        textStyle: { fontFamily: FONT, fontSize: 19, color: INK, lineHeight: 18, padding: [0, 0, 0, 0] },
      },
      series: [
        {
          type: "pie",
          name: "SNP classes",
          center: [176.7, 129.7],
          radius: 77,
          startAngle: frameDeg,
          clockwise: true,
          silent: true,
          label: { show: false },
          labelLine: { show: false },
          itemStyle: { borderColor: "#111", borderWidth: 1 },
          data: pieNames.map((name, i) => ({ name, value: pieValues[i], itemStyle: { color: pieColors[i] } })),
        },
        {
          type: "scatter",
          xAxisIndex: 0, yAxisIndex: 0,
          data: moduleScatter,
          symbolSize: 7.5,
          clip: false,
          itemStyle: { color: "#bdbdbd", borderColor: "#1c1c1c", borderWidth: 1.2, opacity: 1 },
        },
        {
          type: "custom",
          xAxisIndex: 0, yAxisIndex: 0,
          silent: true,
          clip: false,
          data: minorXTicks.map((v) => [v, 0.00021]),
          renderItem: (_: any, api: any) => {
            const p = api.coord([api.value(0), api.value(1)]);
            return { type: "line", shape: { x1: p[0], y1: p[1], x2: p[0], y2: p[1] - 3 }, style: { stroke: AXIS, lineWidth: 1 } };
          },
        },
        {
          type: "custom",
          xAxisIndex: 0, yAxisIndex: 0,
          silent: true,
          clip: false,
          data: minorYTicks.map((v) => [10.5, v]),
          renderItem: (_: any, api: any) => {
            const p = api.coord([api.value(0), api.value(1)]);
            return { type: "line", shape: { x1: p[0], y1: p[1], x2: p[0] + 3, y2: p[1] }, style: { stroke: AXIS, lineWidth: 1 } };
          },
        },
        {
          type: "bar", xAxisIndex: 1, yAxisIndex: 1, data: heritability,
          barCategoryGap: "0%", itemStyle: { color: "#5e5e5e", borderColor: "#5e5e5e", borderWidth: 0.5 },
        },
        {
          type: "bar", xAxisIndex: 2, yAxisIndex: 2, data: heritabilityPerSnp,
          barCategoryGap: "0%", itemStyle: { color: "#5e5e5e", borderColor: "#5e5e5e", borderWidth: 0.5 },
        },
        {
          type: "bar", name: "CT", stack: "e", xAxisIndex: 3, yAxisIndex: 3, data: ctShare, barWidth: 30.7,
          itemStyle: { color: "#4d4d4d", borderColor: "#1a1a1a", borderWidth: 1.3 },
        },
        {
          type: "bar", name: "CT + TS", stack: "e", xAxisIndex: 3, yAxisIndex: 3, data: ctTsShare, barWidth: 30.7,
          itemStyle: { color: "#adadad", borderColor: "#1a1a1a", borderWidth: 1.3 },
        },
        {
          type: "bar", name: "TS", stack: "e", xAxisIndex: 3, yAxisIndex: 3, data: tsShare, barWidth: 30.7,
          itemStyle: { color: "#e6e6e6", borderColor: "#1a1a1a", borderWidth: 1.3 },
        },
        graphSeries(netF, "#e41a1c", 4),
        graphSeries(netG, "#e41a1c", 5),
        graphSeries(netH, "#984ea3", 6),
        graphSeries(netI, "#a65628", 7),
      ],
      graphic: {
        elements: [
          // panel letters
          panelLetter("a", 8, 12), panelLetter("b", 9, 263), panelLetter("c", 358, 12), panelLetter("d", 359, 263),
          panelLetter("e", 1093, 12), panelLetter("f", 6, 581), panelLetter("g", 773, 578), panelLetter("h", 7, 1273), panelLetter("i", 1027, 1534),
          // panel a
          txt("59.79%", 141.7, 128, { fontSize: 18, fill: "#fff", align: "center" }),
          txt("21.2%", 216, 103, { fontSize: 18, fill: "#fff", align: "center" }),
          txt("19.01%", 216.7, 147, { fontSize: 18, fill: "#fff", align: "center" }),
          txt("GWAS", 244, 46.7), txt("lead SNPs", 244, 70.7), txt("CAD", 29, 125), txt("eSNPs", 29, 147.7), txt("Epistasis", 240, 190),
          seg(95, 135.3, 99.5, 135.3, "#444", 1), seg(236, 83, 240, 79, "#444", 1), seg(240, 172.7, 244, 176, "#444", 1),
          // panel b titles
          ytitle("{a|CAD }{i|H}{s|2}{a| (%)}", 29, 355),
          txt("Module size (genes)", 195.7, 499, { align: "center" }),
          // panel c, d, e axis lines and titles
          seg(456, 24, 456, 210.3, AXIS, 1.2), seg(446, 210.3, 1052, 210.3, AXIS, 1.4),
          seg(456, 292.7, 456, 466, AXIS, 1.2), seg(446, 466, 1052, 466, AXIS, 1.4),
          seg(1156, 55.2, 1156, 314, AXIS, 1.2),
          ytitle("{a|CAD }{i|H}{s|2}{a| (%)}", 388, 116),
          ytitle("{a|CAD }{i|H}{s|2}{a| per eSNP (%)}", 363, 379),
          {
            type: "text", z: 100, x: 742, y: 483,
            style: {
              text: "{a|Coexpression modules (}{i|n}{a| = 224)}", align: "center", verticalAlign: "middle",
              rich: { a: { fontFamily: FONT, fontSize: 19, fill: INK }, i: { fontFamily: FONT, fontSize: 19, fontStyle: "italic", fill: INK } },
            },
          },
          ytitle("{a|Genes in enriched GRNs (%)}", 1093, 190, 19.6),
          txt("GWAS trait (no. genes)", 1344, 560.5, { align: "center" }),
          // network labels and leaders
          ...netLeaders(frameF, fLeaders), ...netLabels(frameF, fLabels),
          ...netLeaders(frameG, gLeaders), ...netLabels(frameG, gLabels), ...netLabels(frameGLow, gLowerLabels),
          ...netLeaders(frameH, hLeaders), ...netLabels(frameH, hLabels),
          ...netLeaders(frameI, iLeaders), ...netLabels(frameI, iLabels),
          // network key
          { type: "circle", z: 100, shape: { cx: 1229, cy: 1256.7, r: 10 }, style: { fill: "#c8c8c8", stroke: "#555", lineWidth: 1 } },
          { type: "circle", z: 100, shape: { cx: 1228.5, cy: 1282.3, r: 6 }, style: { fill: "#c8c8c8", stroke: "#555", lineWidth: 1 } },
          txt("KD gene, FDR < 0.05", 1249, 1256.7, { fontSize: 21 }), txt("Gene", 1249, 1282.3, { fontSize: 21 }),
          seg(1219, 1326, 1236, 1310, "#a8a8a8", 1.5, 100),
          { type: "polygon", z: 100, shape: { points: [[1238, 1308], [1231, 1311], [1235, 1316]] }, style: { fill: "#a8a8a8" } },
          txt("GENIE3-inferred regulatory interaction", 1246, 1318.3, { fontSize: 21 }),
          { type: "circle", z: 100, shape: { cx: 1229, cy: 1363, r: 10 }, style: { fill: "#e41a1c", stroke: "#555", lineWidth: 1 } },
          { type: "circle", z: 100, shape: { cx: 1229, cy: 1399, r: 10 }, style: { fill: "#a65628", stroke: "#555", lineWidth: 1 } },
          { type: "circle", z: 100, shape: { cx: 1229, cy: 1434, r: 10 }, style: { fill: "#984ea3", stroke: "#555", lineWidth: 1 } },
          txt("AOR", 1245, 1363, { fontSize: 21 }), txt("LIV", 1245, 1399, { fontSize: 21 }), txt("VAF", 1245, 1434, { fontSize: 21 }),
        ],
      },
    });
    return () => chart.dispose();
  }, []);
  return <div ref={ref} style={{ width: 1603, height: 2100 }} />;
}
